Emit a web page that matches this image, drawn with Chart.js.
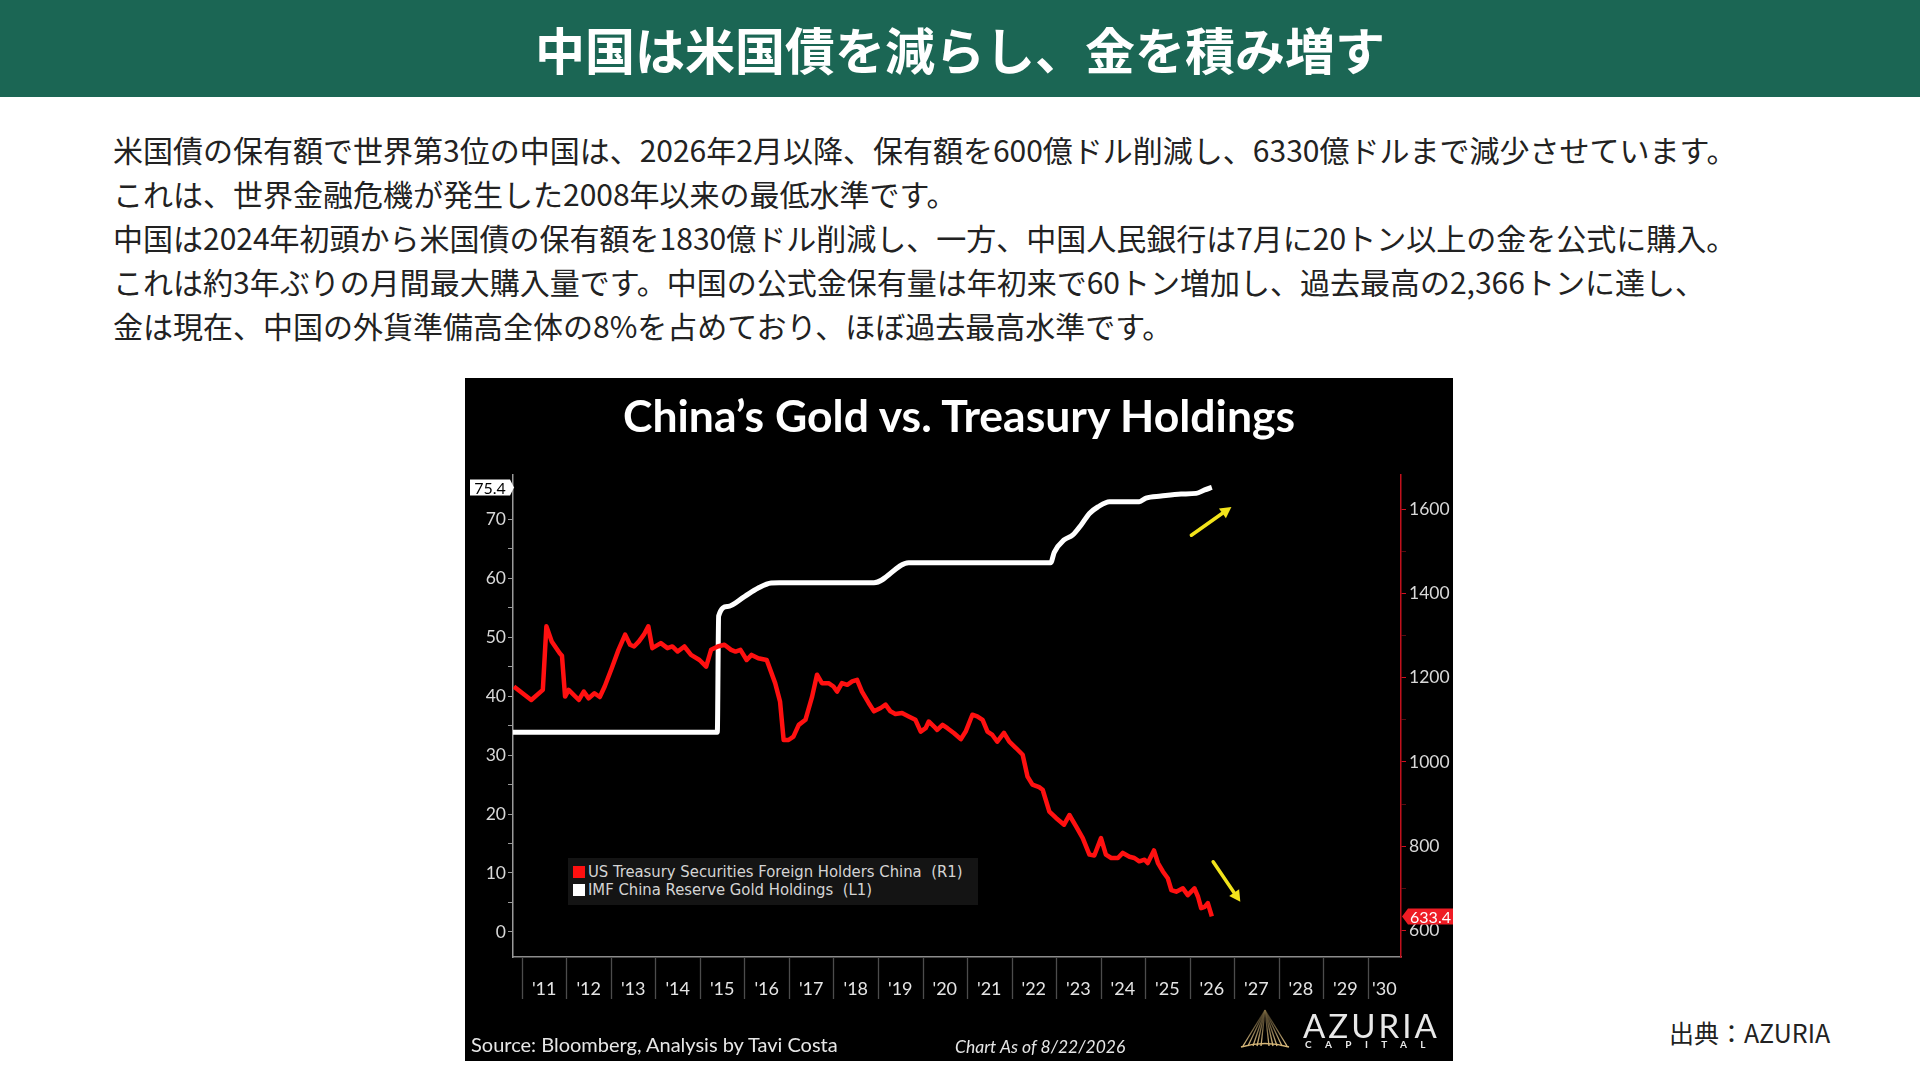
<!DOCTYPE html>
<html lang="ja">
<head>
<meta charset="utf-8">
<title>中国は米国債を減らし、金を積み増す</title>
<script src="https://cdn.jsdelivr.net/npm/chart.js@4.4.1/dist/chart.umd.min.js"></script>
<style>
  html, body { margin: 0; padding: 0; }
  body { width: 1920px; height: 1080px; background: #fff; position: relative; overflow: hidden;
         font-family: "Noto Sans CJK JP", "Noto Sans", sans-serif; }
  .header { position: absolute; left: 0; top: 0; width: 1920px; height: 97px; background: #1b6654;
            color: #fff; text-align: center; font-size: 50px; font-weight: 700; line-height: 97px; }
  .lead { position: absolute; left: 113px; top: 127px; font-size: 30px; line-height: 44px;
          color: #222; white-space: nowrap; }
  .credit { position: absolute; left: 1669px; top: 1017px; font-size: 25px; line-height: 30px; color: #222; }
  .panel { position: absolute; left: 465px; top: 378px; width: 988px; height: 683px; background: #000; overflow: hidden; }
  .panel canvas { position: absolute; left: 0; top: 0; }
  .ctitle { position: absolute; left: 0; top: 11px; width: 988px; text-align: center; color: #fff;
            font-family: Lato, "Open Sans", sans-serif; font-weight: 700; font-size: 44.5px; line-height: 52px; }
  .legend { position: absolute; left: 103px; top: 480px; width: 410px; height: 47px; background: #141414;
            box-sizing: border-box; padding: 5px 0 0 5px; color: #d4d4d4;
            font-family: "DejaVu Sans Condensed", "Liberation Sans Narrow", "DejaVu Sans", sans-serif;
            font-stretch: condensed; font-size: 16.5px; line-height: 18px; white-space: pre; }
  .legend .sw { display: inline-block; width: 12px; height: 12px; margin-right: 3px; vertical-align: -1px; }
  .src { position: absolute; left: 6px; top: 655px; color: #e6e6e6; font-family: Lato, sans-serif; font-size: 20px; line-height: 22px; }
  .asof { position: absolute; left: 490px; top: 658px; color: #e6e6e6; font-family: Lato, sans-serif; font-style: italic; font-size: 17.5px; line-height: 22px; }
  .logo { position: absolute; left: 775px; top: 628px; }
  .brand { position: absolute; left: 838px; top: 630px; color: #e8e8e8; font-family: Lato, sans-serif; font-weight: 400;
           font-size: 33px; line-height: 34px; letter-spacing: 3px; }
  .brand2 { position: absolute; left: 840px; top: 660px; color: #e8e8e8; font-family: Lato, sans-serif; font-weight: 700;
            font-size: 10px; line-height: 12px; letter-spacing: 13.4px; }
</style>
</head>
<body>
<div class="header">中国は米国債を減らし、金を積み増す</div>
<div class="lead">米国債の保有額で世界第3位の中国は、2026年2月以降、保有額を600億ドル削減し、6330億ドルまで減少させています。<br>これは、世界金融危機が発生した2008年以来の最低水準です。<br>中国は2024年初頭から米国債の保有額を1830億ドル削減し、一方、中国人民銀行は7月に20トン以上の金を公式に購入。<br>これは約3年ぶりの月間最大購入量です。中国の公式金保有量は年初来で60トン増加し、過去最高の2,366トンに達し、<br>金は現在、中国の外貨準備高全体の8%を占めており、ほぼ過去最高水準です。</div>
<div class="credit">出典：AZURIA</div>

<div class="panel">
  <canvas id="chart" width="988" height="683"></canvas>
  <div class="ctitle">China’s Gold vs. Treasury Holdings</div>
  <div class="legend" id="legend"></div>
  <div class="src">Source: Bloomberg, Analysis by Tavi Costa</div>
  <div class="asof">Chart As of 8/22/2026</div>
  <svg class="logo" width="50" height="46" viewBox="0 0 50 46">
    <defs>
      <linearGradient id="gold" x1="0" y1="0" x2="0" y2="1">
        <stop offset="0" stop-color="#8a7446" stop-opacity="0.3"/>
        <stop offset="1" stop-color="#e2c488"/>
      </linearGradient>
    </defs>
    <g stroke="url(#gold)" stroke-width="1.3">
      <line x1="25" y1="4" x2="3" y2="40"/><line x1="25" y1="4" x2="8" y2="40"/>
      <line x1="25" y1="4" x2="13" y2="40"/><line x1="25" y1="4" x2="17" y2="40"/>
      <line x1="25" y1="4" x2="21" y2="40"/><line x1="25" y1="4" x2="25" y2="40"/>
      <line x1="25" y1="4" x2="29" y2="40"/><line x1="25" y1="4" x2="33" y2="40"/>
      <line x1="25" y1="4" x2="37" y2="40"/><line x1="25" y1="4" x2="42" y2="40"/>
      <line x1="25" y1="4" x2="47" y2="40"/>
    </g>
    <path d="M1 41 Q25 34 49 41" stroke="#d8b878" stroke-width="1.5" fill="none"/>
  </svg>
  <div class="brand">AZURIA</div>
  <div class="brand2">CAPITAL</div>
</div>

<script>
// US Treasury holdings of China, $bn (right axis). Dates in decimal years.
const treasuryDates = [
  2010.82, 2011.21, 2011.47, 2011.55, 2011.67, 2011.85, 2011.90, 2011.97, 2012.05, 2012.28,
  2012.39, 2012.50, 2012.63, 2012.75, 2012.86, 2013.02, 2013.17, 2013.32, 2013.43, 2013.52,
  2013.63, 2013.74, 2013.84, 2013.93, 2014.12, 2014.27, 2014.38, 2014.50, 2014.65, 2014.80,
  2014.99, 2015.14, 2015.25, 2015.40, 2015.55, 2015.70, 2015.80, 2015.91, 2016.05, 2016.16,
  2016.31, 2016.50, 2016.69, 2016.80, 2016.88, 2016.99, 2017.10, 2017.22, 2017.37, 2017.52,
  2017.63, 2017.74, 2017.89, 2018.00, 2018.08, 2018.19, 2018.31, 2018.42, 2018.53, 2018.64,
  2018.79, 2018.91, 2019.06, 2019.17, 2019.28, 2019.39, 2019.54, 2019.69, 2019.84, 2019.96,
  2020.07, 2020.14, 2020.26, 2020.33, 2020.45, 2020.56, 2020.71, 2020.86, 2020.97, 2021.12,
  2021.23, 2021.35, 2021.46, 2021.57, 2021.68, 2021.83, 2021.95, 2022.10, 2022.25, 2022.36,
  2022.47, 2022.62, 2022.70, 2022.85, 2023.00, 2023.18, 2023.30, 2023.45, 2023.60, 2023.75,
  2023.86, 2024.01, 2024.12, 2024.24, 2024.39, 2024.50, 2024.65, 2024.76, 2024.87, 2024.99,
  2025.06, 2025.20, 2025.29, 2025.40, 2025.51, 2025.59, 2025.70, 2025.85, 2025.96, 2026.11,
  2026.19, 2026.26, 2026.34, 2026.41, 2026.50
];
const treasuryValues = [
  1179, 1147, 1171, 1322, 1286, 1258, 1252, 1155, 1171, 1147,
  1167, 1151, 1163, 1154, 1179, 1223, 1266, 1302, 1278, 1274,
  1286, 1302, 1322, 1270, 1282, 1270, 1274, 1262, 1274, 1254,
  1242, 1226, 1266, 1274, 1278, 1266, 1262, 1266, 1242, 1254,
  1246, 1242, 1187, 1143, 1052, 1052, 1060, 1088, 1100, 1155,
  1207, 1187, 1187, 1179, 1167, 1187, 1183, 1191, 1195, 1167,
  1140, 1120, 1128, 1136, 1120, 1114, 1116, 1108, 1100, 1072,
  1080, 1096, 1084, 1076, 1088, 1080, 1068, 1054, 1072, 1112,
  1108, 1100, 1072, 1064, 1048, 1069, 1048, 1033, 1017, 965,
  946, 940, 934, 882, 867, 851, 874, 847, 819, 780,
  778, 819, 780, 772, 772, 784, 775, 772, 764, 768,
  760, 790, 760, 740, 724, 696, 692, 700, 684, 700,
  680, 653, 656, 665, 633.4
];

// IMF China reserve gold holdings, million troy oz (left axis)
const goldDates = [
  2010.80, 2015.39, 2015.42, 2015.62, 2016.00, 2016.30, 2016.60, 2016.78, 2018.91, 2019.69,
  2022.88, 2022.96, 2023.18, 2023.37, 2023.56, 2023.75, 2023.94, 2024.20, 2024.87, 2025.02,
  2025.36, 2025.81, 2026.15, 2026.34, 2026.50
];
const goldValues = [
  33.89, 33.89, 53.6, 55.2, 56.9, 58.3, 59.2, 59.24, 59.24, 62.64,
  62.64, 64.4, 66.5, 67.3, 69.0, 71.0, 72.1, 73.0, 73.0, 73.6,
  73.95, 74.3, 74.4, 75.0, 75.4
];

const seriesLabels = ['US Treasury Securities Foreign Holders China  (R1)', 'IMF China Reserve Gold Holdings  (L1)'];
const seriesColors = ['#ff1010', '#ffffff'];

const yearTicks = [2011, 2012, 2013, 2014, 2015, 2016, 2017, 2018, 2019, 2020,
                   2021, 2022, 2023, 2024, 2025, 2026, 2027, 2028, 2029, 2030];
const yearLabels = ["'11", "'12", "'13", "'14", "'15", "'16", "'17", "'18", "'19", "'20",
                    "'21", "'22", "'23", "'24", "'25", "'26", "'27", "'28", "'29", "'30"];
const leftTicks = [0, 5, 10, 15, 20, 25, 30, 35, 40, 45, 50, 55, 60, 65, 70, 75];
const rightTicks = [600, 700, 800, 900, 1000, 1100, 1200, 1300, 1400, 1500, 1600];

// trend arrows, in data units (x = year, y = left axis)
const arrows = [
  { x0: 2026.04, y0: 67.3, x1: 2026.94, y1: 72.1 },
  { x0: 2026.53, y0: 11.9, x1: 2027.14, y1: 5.1 }
];

const X_MIN = 2010.8, X_MAX = 2030.75;

const yearDividers = {
  id: 'yearDividers',
  afterDraw(chart) {
    const { ctx, scales: { x } } = chart;
    ctx.save();
    ctx.strokeStyle = '#4c4c4c';
    ctx.lineWidth = 1.3;
    yearTicks.forEach(yr => {
      const px = Math.round(x.getPixelForValue(yr)) + 0.5;
      ctx.beginPath();
      ctx.moveTo(px, x.top + 1);
      ctx.lineTo(px, x.top + 42);
      ctx.stroke();
    });
    ctx.restore();
  }
};

function tag(ctx, left, right, y, tipX, fill, textColor, text) {
  const h = 16;
  ctx.beginPath();
  if (tipX > right) {
    ctx.moveTo(left, y - h / 2); ctx.lineTo(right, y - h / 2); ctx.lineTo(tipX, y);
    ctx.lineTo(right, y + h / 2); ctx.lineTo(left, y + h / 2);
  } else {
    ctx.moveTo(right, y - h / 2); ctx.lineTo(left, y - h / 2); ctx.lineTo(tipX, y);
    ctx.lineTo(left, y + h / 2); ctx.lineTo(right, y + h / 2);
  }
  ctx.closePath();
  ctx.fillStyle = fill;
  ctx.fill();
  ctx.fillStyle = textColor;
  ctx.font = '16px Lato, "Open Sans", sans-serif';
  ctx.textAlign = 'center';
  ctx.textBaseline = 'middle';
  ctx.fillText(text, (left + right) / 2, y + 1);
}

const lastValueTags = {
  id: 'lastValueTags',
  afterDraw(chart) {
    const { ctx, scales: { yL, yR } } = chart;
    ctx.save();
    const g = goldValues[goldValues.length - 1];
    tag(ctx, yL.left + 5, yL.right - 3, yL.getPixelForValue(g), yL.right + 1, '#ffffff', '#000', g.toFixed(1));
    const t = treasuryValues[treasuryValues.length - 1];
    tag(ctx, yR.left + 7, yR.right, yR.getPixelForValue(t), yR.left + 1, '#ee1c24', '#fff', t.toFixed(1));
    ctx.restore();
  }
};

const trendArrows = {
  id: 'trendArrows',
  afterDatasetsDraw(chart) {
    const { ctx, scales: { x, yL } } = chart;
    ctx.save();
    ctx.strokeStyle = '#f2e31b';
    ctx.fillStyle = '#f2e31b';
    ctx.lineWidth = 3.5;
    ctx.lineCap = 'round';
    arrows.forEach(a => {
      const px0 = x.getPixelForValue(a.x0), py0 = yL.getPixelForValue(a.y0);
      const px1 = x.getPixelForValue(a.x1), py1 = yL.getPixelForValue(a.y1);
      const ang = Math.atan2(py1 - py0, px1 - px0);
      const hl = 11, hw = 6;
      const bx = px1 - hl * Math.cos(ang), by = py1 - hl * Math.sin(ang);
      ctx.beginPath(); ctx.moveTo(px0, py0); ctx.lineTo(bx, by); ctx.stroke();
      ctx.beginPath();
      ctx.moveTo(px1, py1);
      ctx.lineTo(bx + hw * Math.sin(ang), by - hw * Math.cos(ang));
      ctx.lineTo(bx - hw * Math.sin(ang), by + hw * Math.cos(ang));
      ctx.closePath(); ctx.fill();
    });
    ctx.restore();
  }
};

function makeChart() {
  const ctx = document.getElementById('chart');
  const chart = new Chart(ctx, {
    type: 'line',
    data: {
      datasets: [{
        label: seriesLabels[0],
        data: treasuryDates.map((d, i) => ({ x: d, y: treasuryValues[i] })),
        yAxisID: 'yR',
        borderColor: seriesColors[0],
        borderWidth: 4.5,
        pointRadius: 0,
        borderJoinStyle: 'round'
      }, {
        label: seriesLabels[1],
        data: goldDates.map((d, i) => ({ x: d, y: goldValues[i] })),
        yAxisID: 'yL',
        borderColor: seriesColors[1],
        borderWidth: 5,
        pointRadius: 0,
        cubicInterpolationMode: 'monotone',
        tension: 0.4,
        borderJoinStyle: 'round'
      }]
    },
    options: {
      responsive: false,
      animation: false,
      layout: { padding: { top: 97, left: 0, right: 0, bottom: 0 } },
      plugins: {
        legend: { display: false },
        tooltip: { enabled: false },
        title: { display: false }
      },
      scales: {
        x: {
          type: 'linear',
          min: X_MIN,
          max: X_MAX,
          afterFit: s => { s.height = 104; },
          afterBuildTicks: s => {
            s.ticks = yearTicks.map(yr => ({ value: (yr + Math.min(yr + 1, X_MAX)) / 2 }));
          },
          grid: { display: false, drawTicks: false },
          border: { display: true, color: '#8c8c8c', width: 1.5 },
          ticks: {
            autoSkip: false, maxRotation: 0, padding: 21,
            color: '#e4e4e4', font: { size: 18 },
            callback: (v, i) => yearLabels[i]
          }
        },
        yL: {
          position: 'left',
          min: -4.26,
          max: 77.52,
          afterFit: s => { s.width = 48; },
          afterBuildTicks: s => { s.ticks = leftTicks.map(v => ({ value: v })); },
          grid: { drawOnChartArea: false, color: '#9a9a9a', tickLength: 5 },
          border: { color: '#9a9a9a', width: 1.5 },
          ticks: {
            padding: 2, color: '#d8d8d8', font: { size: 17.5 },
            callback: v => (v % 10 === 0 ? v : '')
          }
        },
        yR: {
          position: 'right',
          min: 537,
          max: 1681,
          afterFit: s => { s.width = 52; },
          afterBuildTicks: s => { s.ticks = rightTicks.map(v => ({ value: v })); },
          grid: {
            drawOnChartArea: false, tickLength: 5,
            color: c => (c.tick && c.tick.value % 200 === 0 ? '#d01020' : '#5a0a10')
          },
          border: { color: '#c0101c', width: 1.5 },
          ticks: {
            padding: 3, color: '#d8d8d8', font: { size: 17.5 },
            callback: v => (v % 200 === 0 ? v : '')
          }
        }
      }
    },
    plugins: [yearDividers, trendArrows, lastValueTags]
  });

  const legend = document.getElementById('legend');
  legend.innerHTML = chart.data.datasets.map(ds =>
    '<div><span class="sw" style="background:' + ds.borderColor + '"></span>' + ds.label + '</div>'
  ).join('');
}

Chart.defaults.font.family = 'Lato, "Open Sans", sans-serif';
Promise.all([
  document.fonts.load('16px Lato'),
  document.fonts.load('bold 38px Lato'),
  document.fonts.load('30px "Noto Sans CJK JP"')
]).catch(() => {}).then(makeChart);
</script>
</body>
</html>
